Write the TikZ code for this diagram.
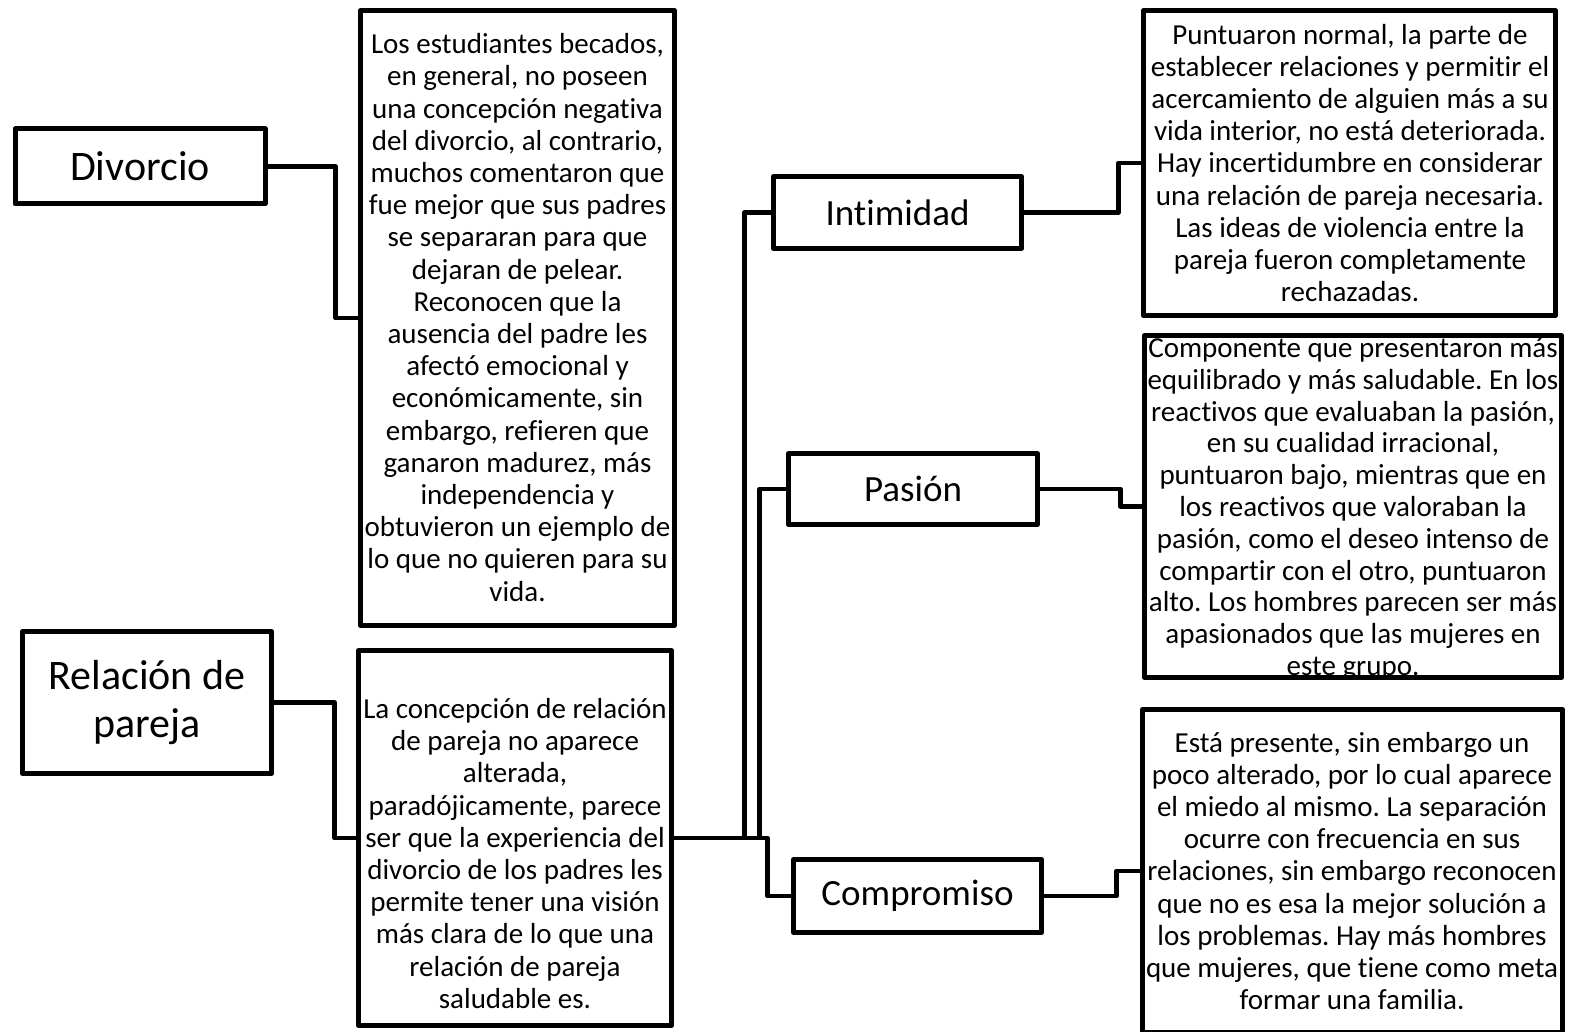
\documentclass[tikz,border=0pt]{standalone}
\usepackage{fontspec}
\setmainfont{Carlito}[Ligatures=CommonOff]
\frenchspacing
\begin{document}
\begin{tikzpicture}[x=1pt,y=-1pt,
  box/.style={draw=black,line width=5pt,line join=round,inner sep=0pt,fill=white},
  body/.style={align=center,inner sep=0pt,font=\fontsize{29}{32.2}\selectfont},
  bigtitle/.style={box,align=center,font=\fontsize{42}{48}\selectfont},
  midtitle/.style={box,align=center,font=\fontsize{37}{44}\selectfont},
  conn/.style={draw=black,line width=4.5pt,line join=round}]
\useasboundingbox (0,0) rectangle (1569,1032);
\fill[white] (0,0) rectangle (1569,1032);

% left title boxes
\node[bigtitle,minimum width=250pt,minimum height=75pt] (div) at (140,166.5) {Divorcio};
\node[bigtitle,minimum width=249pt,minimum height=142pt] (rel) at (147,702.5) {Relación de\\pareja};

% middle text boxes
\node[box,minimum width=314pt,minimum height=615pt] (b1) at (517.5,318) {};
\node[body] (b1t) at (517.5,317.5) {Los estudiantes becados,\\en general, no poseen\\una concepción negativa\\del divorcio, al contrario,\\muchos comentaron que\\fue mejor que sus padres\\se separaran para que\\dejaran de pelear.\\Reconocen que la\\ausencia del padre les\\afectó emocional y\\económicamente, sin\\embargo, refieren que\\ganaron madurez, más\\independencia y\\obtuvieron un ejemplo de\\lo que no quieren para su\\vida.};

\node[box,minimum width=313pt,minimum height=375pt] (b2) at (515,838) {};
\node[body] (b2t) at (515,853.5) {La concepción de relación\\de pareja no aparece\\alterada,\\paradójicamente, parece\\ser que la experiencia del\\divorcio de los padres les\\permite tener una visión\\más clara de lo que una\\relación de pareja\\saludable es.};

% component boxes
\node[midtitle,minimum width=248pt,minimum height=72pt] (int) at (897.5,212.5) {Intimidad};
\node[midtitle,minimum width=249pt,minimum height=71pt] (pas) at (913,489) {Pasión};
\node[midtitle,minimum width=248pt,minimum height=73pt] (com) at (917.5,896) {Compromiso};

% right text boxes
\node[box,minimum width=412pt,minimum height=305pt] (r1) at (1349.5,163) {};
\node[body] (r1t) at (1350,163) {Puntuaron normal, la parte de\\establecer relaciones y permitir el\\acercamiento de alguien más a su\\vida interior, no está deteriorada.\\Hay incertidumbre en considerar\\una relación de pareja necesaria.\\Las ideas de violencia entre la\\pareja fueron completamente\\rechazadas.};

\node[box,minimum width=417pt,minimum height=342pt] (r2) at (1353,506.5) {};
\node[body,font=\fontsize{29}{31.8}\selectfont] (r2t) at (1353,509) {Componente que presentaron más\\equilibrado y más saludable. En los\\reactivos que evaluaban la pasión,\\en su cualidad irracional,\\puntuaron bajo, mientras que en\\los reactivos que valoraban la\\pasión, como el deseo intenso de\\compartir con el otro, puntuaron\\alto. Los hombres parecen ser más\\apasionados que las mujeres en\\este grupo.};

\node[box,minimum width=420pt,minimum height=323pt] (r3) at (1352.5,871) {};
\node[body] (r3t) at (1352,871) {Está presente, sin embargo un\\poco alterado, por lo cual aparece\\el miedo al mismo. La separación\\ocurre con frecuencia en sus\\relaciones, sin embargo reconocen\\que no es esa la mejor solución a\\los problemas. Hay más hombres\\que mujeres, que tiene como meta\\formar una familia.};

% connectors
\draw[conn] (div.east) -- ++(68,0) |- (b1.west);
\draw[conn] (rel.east) -- ++(60.5,0) |- (b2.west);
\draw[conn] (int.west) -- ++(-26.5,0) |- (b2.east);
\draw[conn] (pas.west) -- ++(-26.5,0) |- (b2.east);
\draw[conn] (b2.east) -- ++(93.5,0) |- (com.west);
\draw[conn] (int.east) -- ++(94.5,0) |- (r1.west);
\draw[conn] (pas.east) -- ++(80.5,0) |- (r2.west);
\draw[conn] (com.east) -- ++(72.5,0) |- (r3.west);
\end{tikzpicture}
\end{document}
